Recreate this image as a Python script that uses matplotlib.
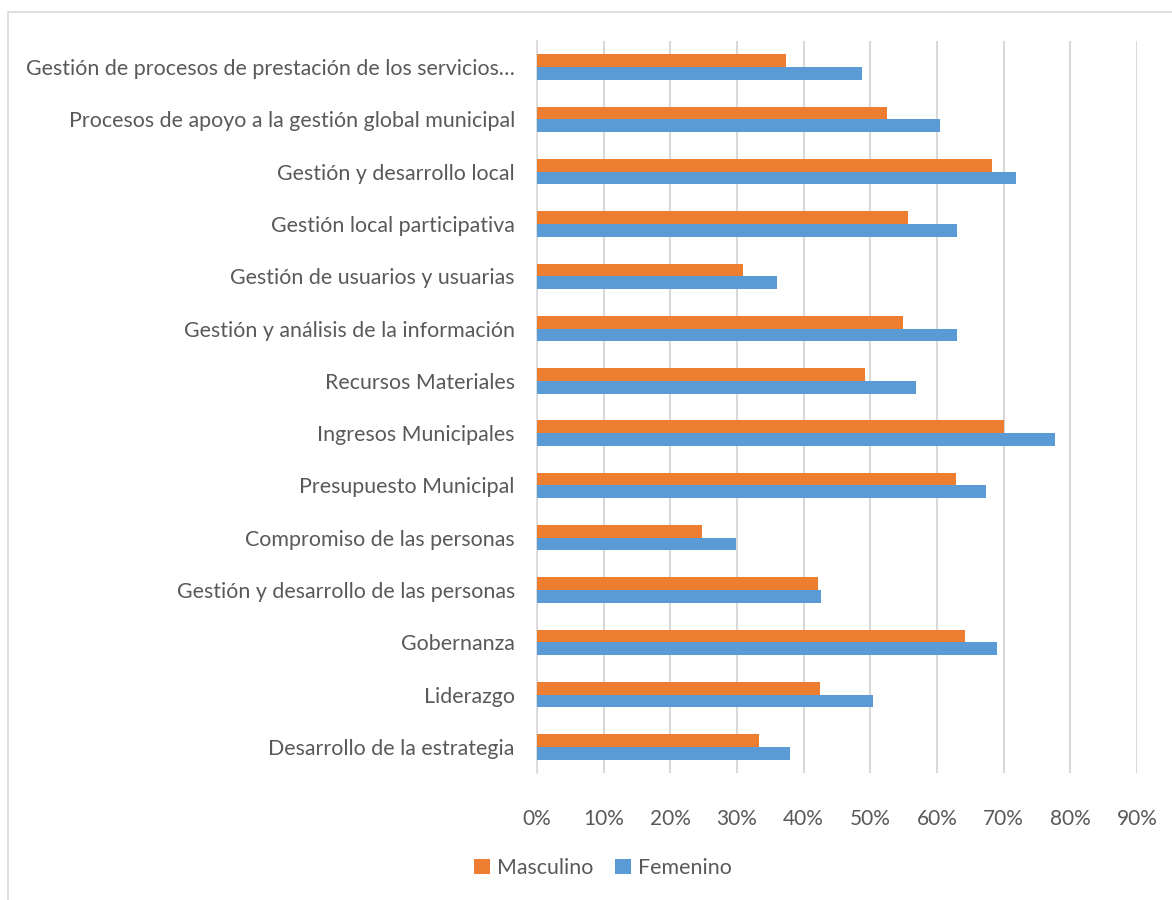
import matplotlib.pyplot as plt
import numpy as np
from matplotlib.patches import Rectangle
from matplotlib.ticker import PercentFormatter

plt.rcParams['font.family'] = ['Lato', 'DejaVu Sans']

# categories listed from top to bottom
categories = [
    'Gestión de procesos de prestación de los servicios…',
    'Procesos de apoyo a la gestión global municipal',
    'Gestión y desarrollo local',
    'Gestión local participativa',
    'Gestión de usuarios y usuarias',
    'Gestión y análisis de la información',
    'Recursos Materiales',
    'Ingresos Municipales',
    'Presupuesto Municipal',
    'Compromiso de las personas',
    'Gestión y desarrollo de las personas',
    'Gobernanza',
    'Liderazgo',
    'Desarrollo de la estrategia',
]
masculino = [0.373, 0.525, 0.682, 0.557, 0.309, 0.549, 0.492, 0.701,
             0.628, 0.248, 0.421, 0.642, 0.424, 0.333]
femenino = [0.488, 0.605, 0.718, 0.630, 0.360, 0.630, 0.568, 0.777,
            0.673, 0.298, 0.426, 0.690, 0.504, 0.379]

ORANGE = '#ed7d31'
BLUE = '#5b9bd5'
TEXT = '#595959'
GRID = '#d9d9d9'

fig = plt.figure(figsize=(11.72, 9), dpi=100)
ax = fig.add_axes([537 / 1172, 1 - 773 / 900, 600 / 1172, 732 / 900])

y = np.arange(len(categories))
h = 0.243
ax.barh(y - h / 2, masculino, height=h, color=ORANGE, label='Masculino', zorder=3)
ax.barh(y + h / 2, femenino, height=h, color=BLUE, label='Femenino', zorder=3)

ax.set_ylim(-0.5, len(categories) - 0.5)
ax.invert_yaxis()
ax.set_xlim(0, 0.9)
ax.set_xticks(np.arange(0, 0.91, 0.1))
ax.xaxis.set_major_formatter(PercentFormatter(1.0, decimals=0))
ax.set_yticks(y)
ax.set_yticklabels(categories)

ax.grid(axis='x', color=GRID, linewidth=1.5, zorder=0)
for side in ['top', 'right', 'bottom']:
    ax.spines[side].set_visible(False)
ax.spines['left'].set_color(GRID)
ax.spines['left'].set_linewidth(1.2)
ax.tick_params(axis='both', length=0, labelcolor=TEXT)
ax.tick_params(axis='y', pad=16, labelsize=15.4)
ax.tick_params(axis='x', pad=26, labelsize=15)

handles, labels = ax.get_legend_handles_labels()
fig.legend(handles, labels, loc='center', bbox_to_anchor=(603 / 1172, 1 - 868 / 900),
           ncol=2, frameon=False, fontsize=15.4, labelcolor=TEXT,
           handlelength=0.75, handleheight=0.75, handletextpad=0.35, columnspacing=1.0)

fig.patches.append(Rectangle((8 / 1172, -0.05), 1.2, 1.05 - 12 / 900, transform=fig.transFigure,
                             fill=False, edgecolor=GRID, linewidth=1.2))

fig.savefig('out.png', dpi=100)
